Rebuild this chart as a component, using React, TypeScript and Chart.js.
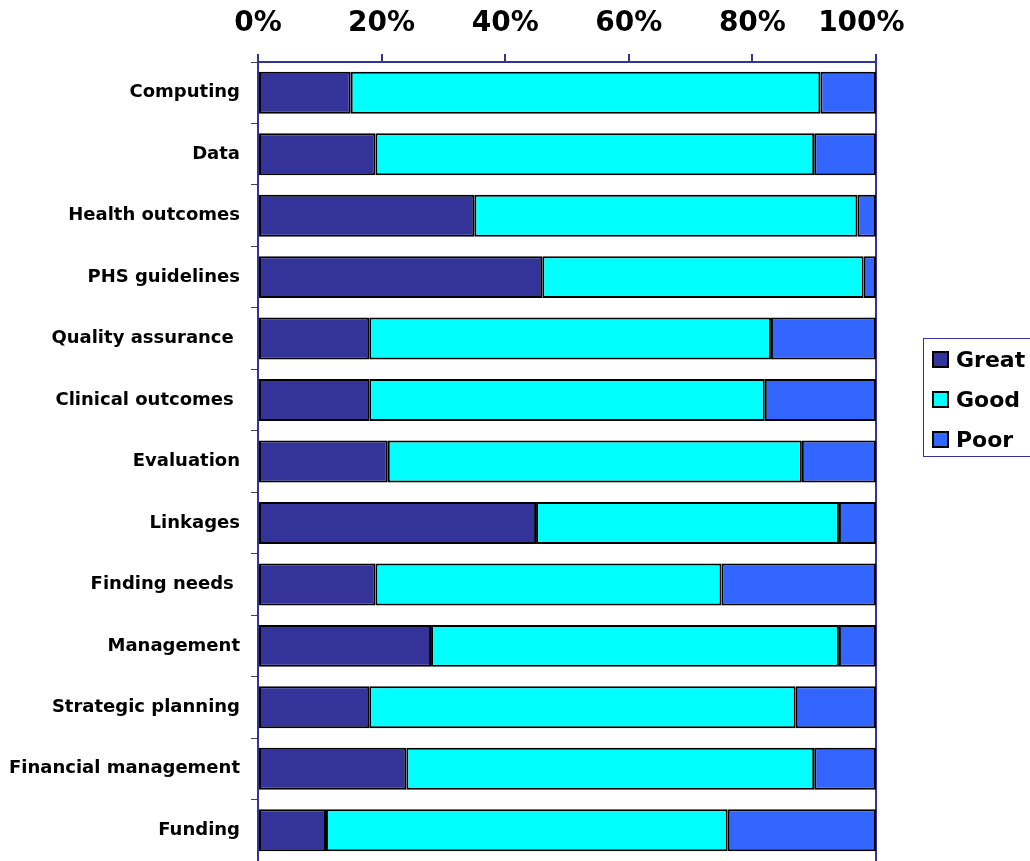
import React, { useEffect, useRef } from "react";
import { Chart, registerables } from "chart.js";

Chart.register(...registerables);

const categories = [
  "Computing",
  "Data",
  "Health outcomes",
  "PHS guidelines",
  "Quality assurance ",
  "Clinical outcomes ",
  "Evaluation",
  "Linkages",
  "Finding needs ",
  "Management",
  "Strategic planning",
  "Financial management",
  "Funding",
];

const great = [15, 19, 35, 46, 18, 18, 21, 45, 19, 28, 18, 24, 11];
const good = [76, 71, 62, 52, 65, 64, 67, 49, 56, 66, 69, 66, 65];
const poor = [9, 10, 3, 2, 17, 18, 12, 6, 25, 6, 13, 10, 24];

const seriesNames = ["Great", "Good", "Poor"];
const seriesColors = ["#333399", "#00FFFF", "#3366FF"];
const xTicks = [0, 20, 40, 60, 80, 100];

const FONT = "'DejaVu Sans', sans-serif";
const NAVY = "#333399";

export default function App() {
  const ref = useRef<HTMLCanvasElement | null>(null);

  useEffect(() => {
    if (!ref.current) return;
    const values = [great, good, poor];
    const chart = new Chart(ref.current, {
      type: "bar",
      data: {
        labels: categories,
        datasets: values.map((v, i) => ({
          label: seriesNames[i],
          data: v,
          backgroundColor: seriesColors[i],
          borderColor: "#000000",
          borderWidth: 2,
          borderSkipped: false,
          barPercentage: 0.683,
          categoryPercentage: 1,
        })),
      },
      options: {
        indexAxis: "y",
        responsive: false,
        animation: false,
        layout: { padding: { left: 0, right: 154, top: 0, bottom: 0 } },
        plugins: {
          legend: { display: false },
          tooltip: { enabled: false },
        },
        scales: {
          x: {
            position: "top",
            stacked: true,
            min: 0,
            max: 100,
            afterFit: (s: any) => {
              s.height = 62;
              s.paddingLeft = 0;
              s.paddingRight = 0;
            },
            afterBuildTicks: (s: any) => {
              s.ticks = xTicks.map((v) => ({ value: v }));
            },
            ticks: {
              callback: (v: any) => (v === 100 ? "100%   " : v + "%"),
              color: "#000000",
              padding: 13,
              font: { family: FONT, size: 28, weight: "bold" },
            },
            grid: {
              drawOnChartArea: true,
              color: (ctx: any) =>
                ctx.tick && ctx.tick.value === 100 ? NAVY : "rgba(0,0,0,0)",
              lineWidth: 2,
              tickColor: NAVY,
              tickLength: 8,
            },
            border: { display: true, color: NAVY, width: 2 },
          },
          y: {
            stacked: true,
            afterFit: (s: any) => {
              s.width = 258;
              s.paddingTop = 0;
              s.paddingBottom = 0;
            },
            ticks: {
              autoSkip: false,
              color: "#000000",
              padding: 11,
              font: { family: FONT, size: 18, weight: "bold" },
            },
            grid: {
              offset: true,
              drawOnChartArea: false,
              color: "#444444",
              tickColor: "#444444",
              tickLength: 7,
              lineWidth: 1,
            },
            border: { display: true, color: NAVY, width: 2 },
          },
        },
      },
    });
    return () => chart.destroy();
  }, []);

  return (
    <div
      style={{
        position: "absolute",
        left: 0,
        top: 0,
        width: 1030,
        height: 861,
        overflow: "hidden",
        background: "#ffffff",
      }}
    >
      <canvas ref={ref} width={1030} height={861} style={{ display: "block" }} />
      <div
        style={{
          position: "absolute",
          left: 923,
          top: 338,
          width: 120,
          height: 119,
          border: `1px solid ${NAVY}`,
          boxSizing: "border-box",
          fontFamily: FONT,
          fontWeight: "bold",
          fontSize: 22,
          color: "#000000",
        }}
      >
        {seriesNames.map((n, i) => (
          <div
            key={n}
            style={{
              position: "absolute",
              left: 8,
              top: 7 + i * 40,
              height: 26,
              display: "flex",
              alignItems: "center",
              whiteSpace: "nowrap",
            }}
          >
            <span
              style={{
                display: "inline-block",
                width: 13,
                height: 13,
                background: seriesColors[i],
                border: "2px solid #000000",
                marginRight: 7,
              }}
            />
            <span>{n}</span>
          </div>
        ))}
      </div>
    </div>
  );
}
